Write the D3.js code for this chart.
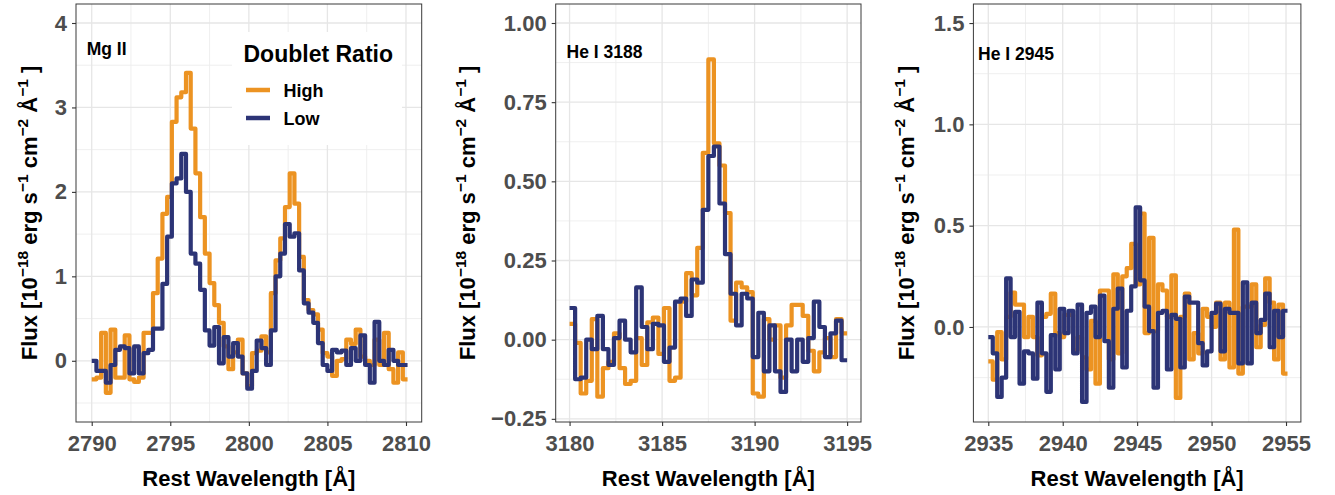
<!DOCTYPE html>
<html>
<head>
<meta charset="utf-8">
<script src="https://cdn.jsdelivr.net/npm/d3@7"></script>
<style>
  body { margin: 0; background: #fff; }
  text { font-family: "Liberation Sans", Arial, Helvetica, sans-serif; font-weight: bold; }
</style>
</head>
<body>
<svg id="chart" width="1335" height="495"></svg>
<script>
// ---- Stacked spectra: flux per wavelength bin (10^-18 erg s^-1 cm^-2 Å^-1) ----

// Mg II 2796/2803 doublet, bins of 0.3 Å starting at 2790 Å
const mgStart = 2790.0, mgStep = 0.3;
const mgHigh = [-0.22, -0.2, 0.33, -0.38, 0.37, -0.2, -0.2, 0.3, -0.22, -0.25,
                -0.2, 0.33, 0.33, 0.8, 1.21, 1.74, 1.94, 2.83, 3.12, 3.18,
                3.41, 2.75, 2.22, 1.7, 1.27, 0.92, 0.66, 0.45, 0.17, -0.1,
                0.1, 0.25, -0.15, -0.3, 0.09, 0.12, 0.29, 0.1, 0.8, 1.19,
                1.45, 1.82, 2.22, 1.86, 1.23, 0.72, 0.6, 0.55, 0.37, 0.09,
                0.05, -0.18, 0.0, 0.02, 0.25, 0.2, 0.37, 0.05, 0.0, -0.05,
                0.25, -0.05, 0.33, -0.1, -0.26, 0.1, -0.22];
const mgLow  = [0.0, -0.12, -0.12, -0.26, -0.05, 0.13, 0.17, 0.15, -0.15, 0.17,
                -0.15, 0.09, 0.13, 0.38, 0.38, 0.91, 1.47, 2.1, 2.16, 2.45,
                2.0, 1.27, 1.15, 0.84, 0.36, 0.18, 0.4, -0.03, 0.28, 0.05,
                0.21, 0.05, -0.15, -0.33, -0.12, 0.24, 0.15, -0.05, 0.36, 1.0,
                1.27, 1.62, 1.47, 1.51, 1.07, 0.68, 0.57, 0.45, 0.21, -0.05,
                -0.12, 0.13, 0.1, 0.12, -0.05, 0.15, 0.0, 0.3, -0.05, -0.26,
                0.46, 0.0, -0.05, 0.13, 0.0, -0.05, -0.05];

// He I 3188, bins of 0.3 Å starting at 3180 Å
const he3188Start = 3180.0, he3188Step = 0.3;
const he3188High = [0.05, -0.01, -0.17, -0.13, 0.065, -0.18, -0.09, -0.07, 0.02, -0.09,
                    -0.14, -0.13, 0.005, -0.08, 0.055, 0.07, -0.045, 0.1, -0.13, -0.12,
                    0.12, 0.21, 0.14, 0.29, 0.59, 0.885, 0.62, 0.55, 0.4, 0.06,
                    0.18, 0.165, 0.15, -0.17, -0.18, 0.065, 0.0, 0.045, -0.12, 0.045,
                    0.11, 0.11, 0.075, -0.035, -0.1, -0.04, 0.005, -0.055, 0.065, 0.02];
const he3188Low  = [0.1, -0.125, -0.12, 0.0, -0.03, 0.075, -0.03, -0.08, 0.005, 0.06,
                    0.0, -0.04, 0.165, 0.04, -0.03, 0.05, 0.045, -0.07, -0.025, 0.12,
                    0.13, 0.075, 0.19, 0.18, 0.41, 0.58, 0.61, 0.43, 0.27, 0.145,
                    0.045, 0.145, 0.13, -0.055, 0.085, -0.1, 0.045, -0.1, -0.165, 0.0,
                    -0.1, 0.0, -0.07, 0.005, 0.12, 0.04, -0.055, 0.02, 0.06, -0.065];

// He I 2945, bins of 0.3 Å starting at 2935 Å
const he2945Start = 2935.0, he2945Step = 0.3;
const he2945High = [-0.17, -0.26, -0.025, -0.16, 0.05, 0.17, 0.11, 0.11, -0.05, 0.05,
                    -0.05, -0.14, 0.05, 0.065, 0.165, -0.03, -0.05, 0.06, 0.06, -0.115,
                    -0.05, -0.15, -0.21, 0.03, -0.28, 0.18, 0.18, -0.16, 0.26, -0.13,
                    0.25, 0.29, 0.41, 0.21, 0.56, -0.03, 0.44, -0.02, 0.21, 0.18,
                    0.05, 0.255, -0.35, 0.05, 0.165, -0.16, -0.03, -0.13, 0.09, 0.05,
                    0.0, 0.12, -0.16, 0.12, -0.2, 0.48, -0.23, 0.1, 0.1, 0.21,
                    -0.1, 0.01, 0.24, 0.12, -0.16, 0.11, -0.23];
const he2945Low  = [-0.05, -0.13, -0.345, -0.25, 0.24, -0.05, 0.075, -0.28, -0.12, -0.13,
                    -0.255, 0.12, -0.13, -0.32, -0.04, -0.21, 0.09, -0.03, 0.08, -0.13,
                    0.11, -0.37, 0.07, 0.1, -0.05, 0.155, -0.07, -0.3, 0.09, 0.19,
                    -0.2, 0.08, 0.2, 0.59, 0.23, 0.1, -0.02, -0.3, 0.07, 0.08,
                    -0.21, 0.06, 0.04, -0.2, 0.15, 0.12, 0.12, -0.08, -0.19, -0.12,
                    0.07, 0.115, -0.12, 0.09, 0.07, 0.07, -0.18, 0.22, -0.18, 0.12,
                    -0.03, 0.035, 0.165, -0.1, 0.08, -0.05, 0.08];

// Axis breaks
const mgXTicks = [2790, 2795, 2800, 2805, 2810];
const mgYTicks = [0, 1, 2, 3, 4];
const he3188XTicks = [3180, 3185, 3190, 3195];
const he3188YTicks = [-0.25, 0, 0.25, 0.5, 0.75, 1.0];
const he2945XTicks = [2935, 2940, 2945, 2950, 2955];
const he2945YTicks = [0, 0.5, 1.0, 1.5];

// Line names and groups
const lineNames = ["Mg II", "He I 3188", "He I 2945"];
const groups = ["High", "Low"];
const legendTitle = "Doublet Ratio";

// ---- Layout & style ----
const COLORS = { High: "#EC9322", Low: "#2C3476" };
const TOP = 4, BOTTOM = 422;
const LINE_W = 4.2;

const panels = [
  { name: lineNames[0], left: 76, right: 421.7, xDomain: [2789, 2811], yDomain: [-0.725, 4.225],
    start: mgStart, step: mgStep, high: mgHigh, low: mgLow,
    xTicks: mgXTicks, yTicks: mgYTicks, yFmt: d3.format("d"),
    labelAt: [2789.68, 3.62], titleX: 37, legend: true },
  { name: lineNames[1], left: 555.7, right: 861, xDomain: [3179.25, 3195.75], yDomain: [-0.26, 1.06],
    start: he3188Start, step: he3188Step, high: he3188High, low: he3188Low,
    xTicks: he3188XTicks, yTicks: he3188YTicks, yFmt: d3.format(".2f"),
    labelAt: [3179.84, 0.888], titleX: 475, legend: false },
  { name: lineNames[2], left: 973.4, right: 1300.9, xDomain: [2934, 2956], yDomain: [-0.469, 1.594],
    start: he2945Start, step: he2945Step, high: he2945High, low: he2945Low,
    xTicks: he2945XTicks, yTicks: he2945YTicks, yFmt: d3.format(".1f"),
    labelAt: [2934.31, 1.318], titleX: 914, legend: false }
];

const svg = d3.select("#chart");
svg.append("rect").attr("width", 1335).attr("height", 495).attr("fill", "#fff");

// minor breaks sit halfway between majors, extended one step past each end if inside the range
function minorBreaks(majors, domain) {
  const out = [];
  const step = majors[1] - majors[0];
  const ext = [majors[0] - step].concat(majors, [majors[majors.length - 1] + step]);
  for (let i = 0; i < ext.length - 1; i++) {
    const m = (ext[i] + ext[i + 1]) / 2;
    if (m > domain[0] && m < domain[1]) out.push(m);
  }
  return out;
}

// spectrum as bin edges so the last bin keeps its width
function toSteps(start, step, values) {
  const pts = values.map((v, i) => [start + step * i, v]);
  pts.push([start + step * values.length, values[values.length - 1]]);
  return pts;
}

panels.forEach(p => {
  const x = d3.scaleLinear().domain(p.xDomain).range([p.left, p.right]);
  const y = d3.scaleLinear().domain(p.yDomain).range([BOTTOM, TOP]);
  const g = svg.append("g");

  // grid
  const grid = g.append("g");
  const xMaj = p.xTicks.filter(t => t >= p.xDomain[0] && t <= p.xDomain[1]);
  const yMaj = p.yTicks;
  const xMin = minorBreaks(p.xTicks, p.xDomain);
  const yMin = minorBreaks(p.yTicks, p.yDomain);
  grid.selectAll(".xmin").data(xMin).join("line")
    .attr("x1", d => x(d)).attr("x2", d => x(d)).attr("y1", TOP).attr("y2", BOTTOM)
    .attr("stroke", "#EDEDED").attr("stroke-width", 0.9);
  grid.selectAll(".ymin").data(yMin).join("line")
    .attr("y1", d => y(d)).attr("y2", d => y(d)).attr("x1", p.left).attr("x2", p.right)
    .attr("stroke", "#EDEDED").attr("stroke-width", 0.9);
  grid.selectAll(".xmaj").data(xMaj).join("line")
    .attr("x1", d => x(d)).attr("x2", d => x(d)).attr("y1", TOP).attr("y2", BOTTOM)
    .attr("stroke", "#E6E6E6").attr("stroke-width", 1.3);
  grid.selectAll(".ymaj").data(yMaj).join("line")
    .attr("y1", d => y(d)).attr("y2", d => y(d)).attr("x1", p.left).attr("x2", p.right)
    .attr("stroke", "#E6E6E6").attr("stroke-width", 1.3);

  // legend box (drawn above grid, below data)
  if (p.legend) {
    const lg = svg.append("g").attr("class", "legend");
    lg.append("rect").attr("x", 232).attr("y", 32).attr("width", 170).attr("height", 113).attr("fill", "#fff");
    lg.append("text").attr("x", 243.5).attr("y", 62).attr("font-size", 23).attr("fill", "#000").text(legendTitle);
    groups.forEach((grp, i) => {
      const ky = 90 + i * 28;
      lg.append("line").attr("x1", 246).attr("x2", 270).attr("y1", ky).attr("y2", ky)
        .attr("stroke", COLORS[grp]).attr("stroke-width", 4.5);
      lg.append("text").attr("x", 283.5).attr("y", ky + 6.5).attr("font-size", 18).attr("fill", "#000").text(grp);
    });
  }

  // spectra: High first, Low on top
  const line = d3.line().x(d => x(d[0])).y(d => y(d[1])).curve(d3.curveStepAfter);
  [["High", p.high], ["Low", p.low]].forEach(([grp, vals]) => {
    svg.append("path").datum(toSteps(p.start, p.step, vals))
      .attr("d", line).attr("fill", "none")
      .attr("stroke", COLORS[grp]).attr("stroke-width", LINE_W)
      .attr("stroke-linejoin", "round").attr("stroke-linecap", "butt");
  });

  // line label
  svg.append("text").attr("x", x(p.labelAt[0])).attr("y", y(p.labelAt[1]))
    .attr("font-size", 17.5).attr("fill", "#000").text(p.name);

  // panel border
  svg.append("rect").attr("x", p.left).attr("y", TOP)
    .attr("width", p.right - p.left).attr("height", BOTTOM - TOP)
    .attr("fill", "none").attr("stroke", "#3a3a3a").attr("stroke-width", 1);

  // axes
  const xAxis = svg.append("g").attr("transform", `translate(0,${BOTTOM})`)
    .call(d3.axisBottom(x).tickValues(p.xTicks).tickFormat(d3.format("d")).tickSize(4).tickPadding(9));
  const yAxis = svg.append("g").attr("transform", `translate(${p.left},0)`)
    .call(d3.axisLeft(y).tickValues(p.yTicks).tickFormat(p.yFmt).tickSize(4).tickPadding(5));
  [xAxis, yAxis].forEach(a => {
    a.select(".domain").remove();
    a.selectAll(".tick line").attr("stroke", "#333").attr("stroke-width", 1.1);
    a.selectAll(".tick text").attr("fill", "#4D4D4D").attr("font-size", 22)
      .attr("font-family", "\"Liberation Sans\", Arial, Helvetica, sans-serif").attr("font-weight", "bold");
  });

  // axis titles
  svg.append("text").attr("x", (p.left + p.right) / 2).attr("y", 486)
    .attr("text-anchor", "middle").attr("font-size", 22).attr("fill", "#000")
    .text("Rest Wavelength [Å]");

  const yt = svg.append("text")
    .attr("transform", `translate(${p.titleX},${(TOP + BOTTOM) / 2}) rotate(-90)`)
    .attr("text-anchor", "middle").attr("font-size", 22).attr("fill", "#000");
  const parts = [
    ["Flux [10", 0], ["\u221218", 1], [" erg s", 0], ["\u22121", 1],
    [" cm", 0], ["\u22122", 1], [" Å", 0], ["\u22121", 1], [" ]", 0]
  ];
  let prevSup = 0;
  parts.forEach(([t, sup]) => {
    const ts = yt.append("tspan").text(t);
    if (sup) ts.attr("font-size", 15.5);
    const shift = (sup ? -9 : 0) - (prevSup ? -9 : 0);
    if (shift) ts.attr("dy", shift);
    prevSup = sup;
  });
});
</script>
</body>
</html>
